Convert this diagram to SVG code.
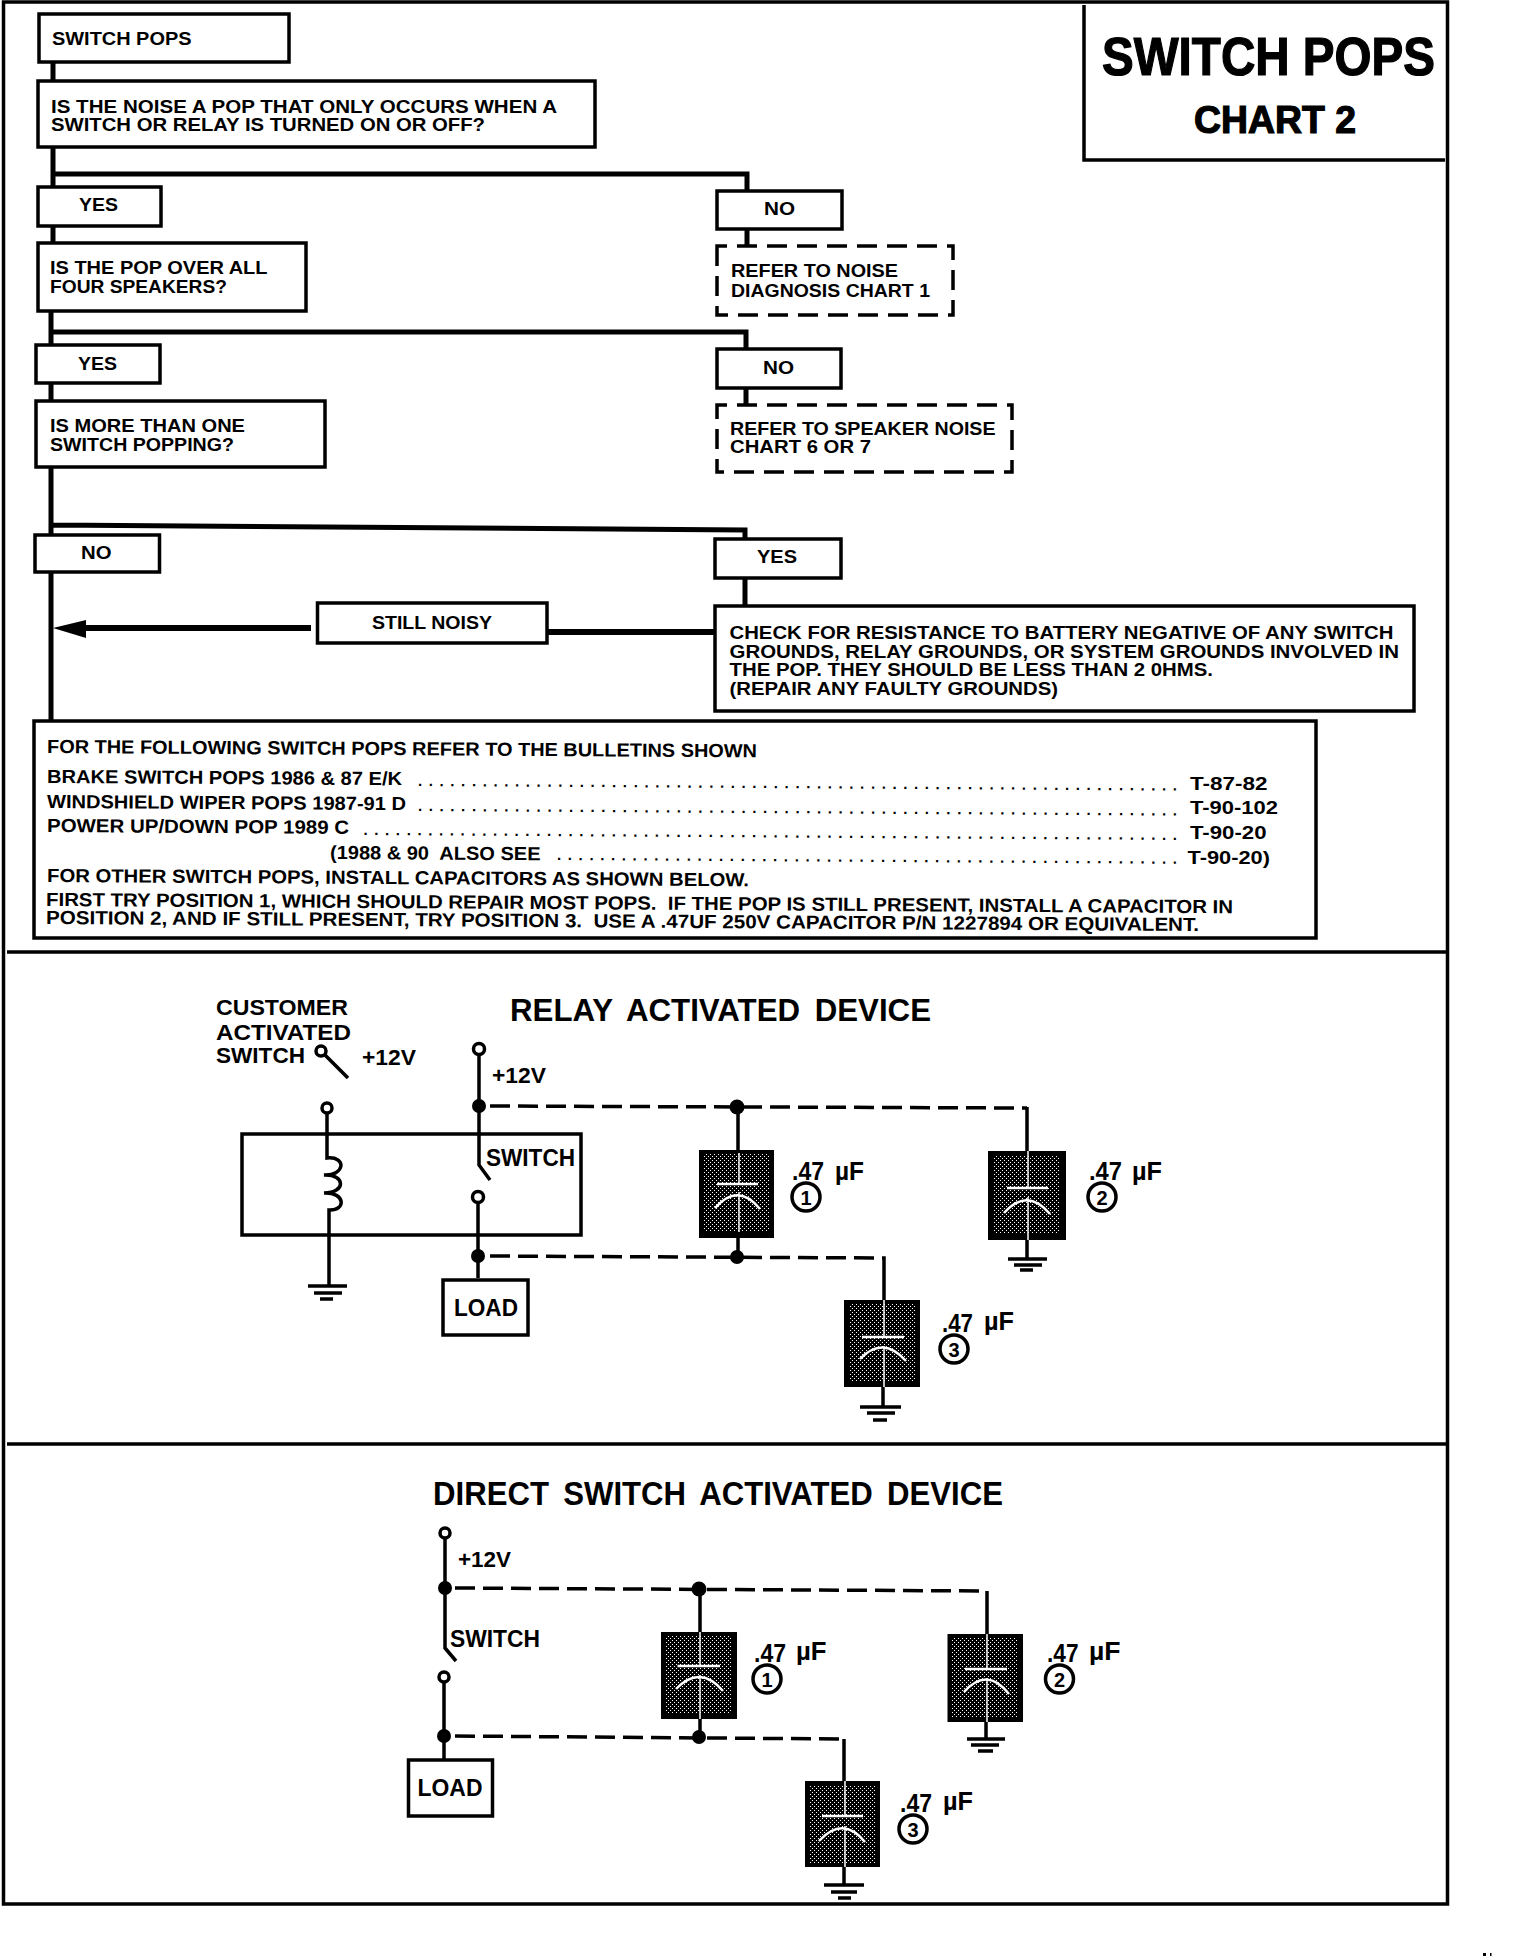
<svg xmlns="http://www.w3.org/2000/svg" width="1520" height="1956" viewBox="0 0 1520 1956">
<style>
text{font-family:"Liberation Sans",Arial,sans-serif;font-weight:bold;fill:#000}
.b{fill:#fff;stroke:#000;stroke-width:3.5}
.d{fill:#fff;stroke:#000;stroke-width:3.5;stroke-dasharray:20 10;stroke-dashoffset:10}
.t{font-size:19px}
.s{font-size:18px}
.e{font-size:22px}
.c{font-size:25px}
.m{font-size:23px}
.h{stroke:#000;stroke-width:1.2}
.dots{font-size:15px}
.w{fill:none;stroke:#000;stroke-width:5}
.n{fill:none;stroke:#000;stroke-width:3.5}
.o{fill:#fff;stroke:#000;stroke-width:3.5}
.k{fill:#000}
.dash{fill:none;stroke:#000;stroke-width:3.5;stroke-dasharray:20 8}
.cb{fill:#000}
.ci{fill:url(#st)}
.cw{fill:none;stroke:#fff;stroke-width:2.5}
.cv{fill:none;stroke:#fff;stroke-width:1.5}
</style>
<defs>
<pattern id="st" width="4" height="4" patternUnits="userSpaceOnUse">
<rect width="4" height="4" fill="#000"/>
<rect x="0" y="0" width="1" height="1" fill="#fff"/>
<rect x="2" y="2" width="1" height="1" fill="#fff"/>
</pattern>
</defs>
<rect width="1520" height="1956" fill="#fff"/>
<g id="frame">
<path class="n" d="M3.500 2H1447.500V1904H3.500Z"/>
<path class="n" d="M7 952H1447M7 1444H1447"/>
<path d="M1084 5V160H1445" fill="none" stroke="#000" stroke-width="3.500"/>
<rect x="1483" y="1953" width="3" height="3" fill="#000"/>
<rect x="1490" y="1953" width="1.500" height="3" fill="#000"/>
</g>
<g id="connectors">
<path class="w" d="M53 62V187M53 226V243M53 147V174H747V191M747 229V246"/>
<path class="w" d="M51 311V345M51 383V401M51 332H746V349M746 388V405"/>
<path class="w" d="M51 467V720M51 525L745 530V539M745 578V606"/>
<path d="M86 628H311" stroke="#000" stroke-width="6" fill="none"/>
<path d="M53 628L86 620V638Z" fill="#000"/>
<path d="M547 632H715" stroke="#000" stroke-width="6" fill="none"/>
<path class="n" d="M348 1078L325 1055"/>
<path class="n" d="M327 1113V1158C347 1156 345 1176 324 1175C346 1174 346 1193 324 1193C346 1192 346 1211 329 1210V1285"/>
<path class="n" d="M479 1055V1106M479 1106V1165L490 1180M478 1203V1278"/>
<path class="dash" d="M490 1106L1027 1108"/>
<path class="n" d="M1027 1107V1151M738 1107V1150M738 1238V1257"/>
<path class="dash" d="M490 1256L882 1258"/>
<path class="n" d="M882 1258H884V1300M883 1387V1407M1027 1240V1259"/>
<path class="n" d="M445 1538V1588V1648L456 1661M444 1682V1760"/>
<path class="dash" d="M455 1588L987 1591"/>
<path class="dash" d="M455 1736L844 1739"/>
<path class="n" d="M987 1591V1634M700 1589V1632M700 1719V1737M844 1739V1781M844 1867V1885M986 1722V1739"/>
</g>
<g id="n-switch-pops"><rect class="b" x="39" y="14" width="250" height="48"/><text class="s" x="52" y="45" textLength="139.500" lengthAdjust="spacingAndGlyphs">SWITCH POPS</text></g>
<g id="n-q1"><rect class="b" x="38" y="81" width="557" height="66"/><text class="t" x="51" y="113" textLength="506" lengthAdjust="spacingAndGlyphs">IS THE NOISE A POP THAT ONLY OCCURS WHEN A</text><text class="t" x="51" y="131" textLength="434" lengthAdjust="spacingAndGlyphs">SWITCH OR RELAY IS TURNED ON OR OFF?</text></g>
<g id="n-yes1"><rect class="b" x="38" y="187" width="123" height="39"/><text class="t" x="79" y="211" textLength="39" lengthAdjust="spacingAndGlyphs">YES</text></g>
<g id="n-no1"><rect class="b" x="717" y="191" width="125" height="38"/><text class="t" x="764" y="215" textLength="31" lengthAdjust="spacingAndGlyphs">NO</text></g>
<g id="n-refer1"><rect class="d" x="717" y="246" width="236" height="69"/><text class="t" x="731" y="277" textLength="167" lengthAdjust="spacingAndGlyphs">REFER TO NOISE</text><text class="t" x="731" y="297" textLength="199" lengthAdjust="spacingAndGlyphs">DIAGNOSIS CHART 1</text></g>
<g id="n-q2"><rect class="b" x="38" y="243" width="268" height="68"/><text class="t" x="50" y="274" textLength="217.500" lengthAdjust="spacingAndGlyphs">IS THE POP OVER ALL</text><text class="t" x="50" y="293" textLength="177" lengthAdjust="spacingAndGlyphs">FOUR SPEAKERS?</text></g>
<g id="n-yes2"><rect class="b" x="36" y="345" width="124" height="38"/><text class="t" x="78" y="370" textLength="39" lengthAdjust="spacingAndGlyphs">YES</text></g>
<g id="n-no2"><rect class="b" x="717" y="349" width="124" height="39"/><text class="t" x="763" y="374" textLength="31" lengthAdjust="spacingAndGlyphs">NO</text></g>
<g id="n-refer2"><rect class="d" x="717" y="405" width="295" height="67"/><text class="t" x="730" y="435" textLength="265.500" lengthAdjust="spacingAndGlyphs">REFER TO SPEAKER NOISE</text><text class="t" x="730" y="453" textLength="141" lengthAdjust="spacingAndGlyphs">CHART 6 OR 7</text></g>
<g id="n-q3"><rect class="b" x="36" y="401" width="289" height="66"/><text class="t" x="50" y="432" textLength="195" lengthAdjust="spacingAndGlyphs">IS MORE THAN ONE</text><text class="t" x="50" y="451" textLength="184" lengthAdjust="spacingAndGlyphs">SWITCH POPPING?</text></g>
<g id="n-no3"><rect class="b" x="35" y="535" width="124.500" height="37"/><text class="t" x="81" y="559" textLength="30.500" lengthAdjust="spacingAndGlyphs">NO</text></g>
<g id="n-yes3"><rect class="b" x="715" y="539" width="126" height="39"/><text class="t" x="757" y="563" textLength="40" lengthAdjust="spacingAndGlyphs">YES</text></g>
<g id="n-still-noisy"><rect class="b" x="317.500" y="603" width="229.500" height="40"/><text class="t" x="372" y="629" textLength="120" lengthAdjust="spacingAndGlyphs">STILL NOISY</text></g>
<g id="n-check"><rect class="b" x="715" y="606" width="699" height="105"/>
<text class="t" x="729.500" y="639" textLength="664" lengthAdjust="spacingAndGlyphs">CHECK FOR RESISTANCE TO BATTERY NEGATIVE OF ANY SWITCH</text>
<text class="t" x="729.500" y="658" textLength="669.500" lengthAdjust="spacingAndGlyphs">GROUNDS, RELAY GROUNDS, OR SYSTEM GROUNDS INVOLVED IN</text>
<text class="t" x="729.500" y="676" textLength="483.500" lengthAdjust="spacingAndGlyphs">THE POP. THEY SHOULD BE LESS THAN 2 0HMS.</text>
<text class="t" x="729.500" y="695" textLength="328.500" lengthAdjust="spacingAndGlyphs">(REPAIR ANY FAULTY GROUNDS)</text></g>
<g id="n-bulletins"><rect class="b" x="34" y="721" width="1282" height="217"/>
<text class="t" x="47" y="753" textLength="710" lengthAdjust="spacingAndGlyphs" transform="rotate(0.35 47 753)">FOR THE FOLLOWING SWITCH POPS REFER TO THE BULLETINS SHOWN</text>
<text class="t" x="47" y="783" textLength="355" lengthAdjust="spacingAndGlyphs" transform="rotate(0.35 47 783)">BRAKE SWITCH POPS 1986 &amp; 87 E/K</text>
<text class="dots" x="418" y="786" textLength="759" transform="rotate(0.35 418 786)">.......................................................................</text>
<text class="t" x="1190" y="790" textLength="77.500" lengthAdjust="spacingAndGlyphs">T-87-82</text>
<text class="t" x="47" y="808" textLength="359" lengthAdjust="spacingAndGlyphs" transform="rotate(0.35 47 808)">WINDSHIELD WIPER POPS 1987-91 D</text>
<text class="dots" x="418" y="811" textLength="759" transform="rotate(0.35 418 811)">.......................................................................</text>
<text class="t" x="1190" y="814" textLength="88" lengthAdjust="spacingAndGlyphs">T-90-102</text>
<text class="t" x="47" y="832" textLength="302" lengthAdjust="spacingAndGlyphs" transform="rotate(0.35 47 832)">POWER UP/DOWN POP 1989 C</text>
<text class="dots" x="363.500" y="835" textLength="813.500" transform="rotate(0.35 363.500 835)">............................................................................</text>
<text class="t" x="1190" y="839" textLength="76.500" lengthAdjust="spacingAndGlyphs">T-90-20</text>
<text class="t" x="330" y="859" textLength="210.500" lengthAdjust="spacingAndGlyphs" transform="rotate(0.35 330 859)" xml:space="preserve">(1988 &amp; 90  ALSO SEE</text>
<text class="dots" x="557" y="860" textLength="620" transform="rotate(0.35 557 860)">..........................................................</text>
<text class="t" x="1187.500" y="864" textLength="82.500" lengthAdjust="spacingAndGlyphs">T-90-20)</text>
<text class="t" x="47" y="882" textLength="702" lengthAdjust="spacingAndGlyphs" transform="rotate(0.35 47 882)">FOR OTHER SWITCH POPS, INSTALL CAPACITORS AS SHOWN BELOW.</text>
<text class="t" x="46" y="906" textLength="1187" lengthAdjust="spacingAndGlyphs" transform="rotate(0.35 46 906)" xml:space="preserve">FIRST TRY POSITION 1, WHICH SHOULD REPAIR MOST POPS.  IF THE POP IS STILL PRESENT, INSTALL A CAPACITOR IN</text>
<text class="t" x="46" y="924" textLength="1153" lengthAdjust="spacingAndGlyphs" transform="rotate(0.35 46 924)" xml:space="preserve">POSITION 2, AND IF STILL PRESENT, TRY POSITION 3.  USE A .47UF 250V CAPACITOR P/N 1227894 OR EQUIVALENT.</text></g>
<g id="n-title"><text class="h" x="1102" y="75" font-size="54" textLength="333" lengthAdjust="spacingAndGlyphs">SWITCH POPS</text><text class="h" x="1194" y="133" font-size="39" textLength="162" lengthAdjust="spacingAndGlyphs">CHART 2</text></g>

<g id="relay-section">
<text x="510" y="1021" font-size="31" word-spacing="6" textLength="421" lengthAdjust="spacingAndGlyphs">RELAY ACTIVATED DEVICE</text>
<text class="e" x="216" y="1015" textLength="132" lengthAdjust="spacingAndGlyphs">CUSTOMER</text>
<text class="e" x="216" y="1040" textLength="135" lengthAdjust="spacingAndGlyphs">ACTIVATED</text>
<text class="e" x="216" y="1063" textLength="89" lengthAdjust="spacingAndGlyphs">SWITCH</text>
<text class="e" x="362" y="1065" textLength="54" lengthAdjust="spacingAndGlyphs">+12V</text>
<text class="e" x="492" y="1083" textLength="54" lengthAdjust="spacingAndGlyphs">+12V</text>
<circle class="o" cx="321" cy="1051" r="5"/>
<circle class="o" cx="327" cy="1108" r="5"/>
<circle class="o" cx="479" cy="1049" r="5.500"/>
<circle class="o" cx="478" cy="1197" r="5.500"/>
<circle class="k" cx="479" cy="1106" r="7"/>
<circle class="k" cx="478" cy="1256" r="7"/>
<circle class="k" cx="737" cy="1107" r="7.500"/>
<circle class="k" cx="737" cy="1257" r="7"/>
<path class="n" d="M308 1286H347M314 1293H342M320 1299H333"/>
<path class="n" d="M1008 1259H1047M1014 1265H1042M1020 1270H1033"/>
<path class="n" d="M860 1407H901M867 1413H895M873 1420H887"/>
</g>
<g id="relay-box"><path d="M242 1134H581V1235H242Z" fill="none" stroke="#000" stroke-width="3.500"/><text class="m" x="486" y="1166" textLength="89" lengthAdjust="spacingAndGlyphs">SWITCH</text></g>
<g id="relay-load"><rect class="b" x="443" y="1280" width="85" height="55"/><text class="m" x="454" y="1316" textLength="64" lengthAdjust="spacingAndGlyphs">LOAD</text></g>
<g id="relay-cap1"><rect class="cb" x="699" y="1150" width="75" height="88"/><rect class="ci" x="704" y="1153" width="66" height="79"/><path class="cv" d="M739 1153V1184M739 1192V1232"/><path class="cw" d="M717 1184H758M715 1208Q738 1182 760 1209"/>
<text class="c" x="792" y="1180" textLength="32" lengthAdjust="spacingAndGlyphs">.47</text><text class="c" x="835" y="1180" textLength="29" lengthAdjust="spacingAndGlyphs">µF</text><circle class="o" cx="806" cy="1197" r="14"/><text x="806" y="1205" font-size="20" text-anchor="middle">1</text></g>
<g id="relay-cap2"><rect class="cb" x="988" y="1151" width="78" height="89"/><rect class="ci" x="993" y="1155" width="67" height="78"/><path class="cv" d="M1028 1151V1188M1028 1197V1240"/><path class="cw" d="M1007 1188H1048M1004 1213Q1027 1187 1050 1214"/>
<text class="c" x="1089" y="1180" textLength="33" lengthAdjust="spacingAndGlyphs">.47</text><text class="c" x="1132" y="1180" textLength="30" lengthAdjust="spacingAndGlyphs">µF</text><circle class="o" cx="1102" cy="1197" r="14"/><text x="1102" y="1205" font-size="20" text-anchor="middle">2</text></g>
<g id="relay-cap3"><rect class="cb" x="844" y="1300" width="76" height="87"/><rect class="ci" x="849" y="1304" width="67" height="77"/><path class="cv" d="M884 1300V1337M884 1346V1387"/><path class="cw" d="M862 1337H904M860 1359Q883 1335 906 1361"/>
<text class="c" x="942" y="1332" textLength="31" lengthAdjust="spacingAndGlyphs">.47</text><text class="c" x="984" y="1330" textLength="30" lengthAdjust="spacingAndGlyphs">µF</text><circle class="o" cx="954" cy="1349" r="14"/><text x="954" y="1357" font-size="20" text-anchor="middle">3</text></g>

<g id="direct-section">
<text x="433" y="1505" font-size="33" word-spacing="6" textLength="570" lengthAdjust="spacingAndGlyphs">DIRECT SWITCH ACTIVATED DEVICE</text>
<text class="e" x="458" y="1567" textLength="53" lengthAdjust="spacingAndGlyphs">+12V</text>
<text class="m" x="450" y="1647" textLength="90" lengthAdjust="spacingAndGlyphs">SWITCH</text>
<circle class="o" cx="445" cy="1533" r="5"/>
<circle class="o" cx="444" cy="1677" r="5"/>
<circle class="k" cx="445" cy="1588" r="7"/>
<circle class="k" cx="444" cy="1736" r="7"/>
<circle class="k" cx="699" cy="1589" r="7.500"/>
<circle class="k" cx="699" cy="1737" r="7"/>
<path class="n" d="M967 1739H1005M971 1745H999M978 1751H993"/>
<path class="n" d="M824 1885H864M831 1892H857M838 1898H851"/>
</g>
<g id="direct-load"><rect class="b" x="408.500" y="1760" width="84" height="56"/><text class="m" x="417.500" y="1796" textLength="65" lengthAdjust="spacingAndGlyphs">LOAD</text></g>
<g id="direct-cap1"><rect class="cb" x="661" y="1632" width="76" height="87"/><rect class="ci" x="666" y="1636" width="66" height="78"/><path class="cv" d="M700 1632V1666M700 1675V1719"/><path class="cw" d="M677.500 1666H720M676 1689Q700 1664 723 1691"/>
<text class="c" x="754" y="1662" textLength="32" lengthAdjust="spacingAndGlyphs">.47</text><text class="c" x="796" y="1660" textLength="30.500" lengthAdjust="spacingAndGlyphs">µF</text><circle class="o" cx="767" cy="1679" r="14"/><text x="767" y="1687" font-size="20" text-anchor="middle">1</text></g>
<g id="direct-cap2"><rect class="cb" x="947.500" y="1634" width="75.500" height="88"/><rect class="ci" x="952" y="1638" width="66" height="79"/><path class="cv" d="M987 1634V1669M987 1678V1722"/><path class="cw" d="M965 1669H1007M964 1692Q987 1666 1009 1694"/>
<text class="c" x="1047" y="1662" textLength="31.500" lengthAdjust="spacingAndGlyphs">.47</text><text class="c" x="1089" y="1660" textLength="31.500" lengthAdjust="spacingAndGlyphs">µF</text><circle class="o" cx="1059.500" cy="1679" r="14"/><text x="1059.500" y="1687" font-size="20" text-anchor="middle">2</text></g>
<g id="direct-cap3"><rect class="cb" x="805" y="1781" width="75" height="86"/><rect class="ci" x="809" y="1785" width="67" height="78"/><path class="cv" d="M845 1781V1816M845 1826V1867"/><path class="cw" d="M822 1816H863M819 1841Q843 1815 865 1842"/>
<text class="c" x="900" y="1812" textLength="32" lengthAdjust="spacingAndGlyphs">.47</text><text class="c" x="943" y="1810" textLength="30" lengthAdjust="spacingAndGlyphs">µF</text><circle class="o" cx="913" cy="1829" r="14"/><text x="913" y="1837" font-size="20" text-anchor="middle">3</text></g>
</svg>
